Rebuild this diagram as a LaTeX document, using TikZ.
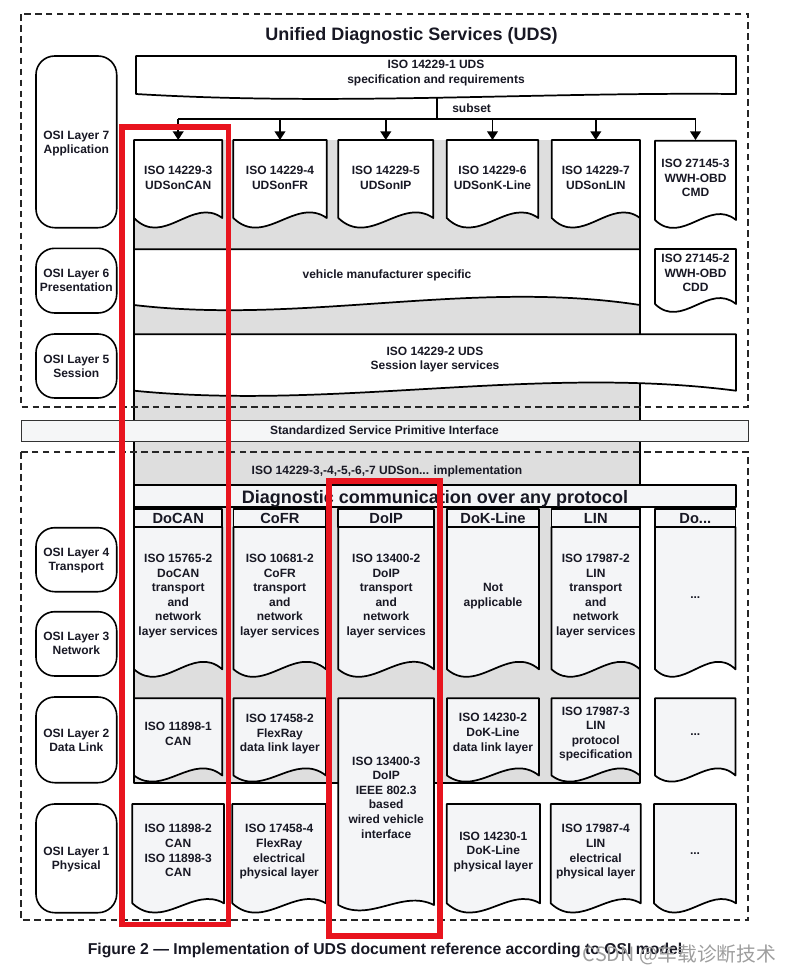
\documentclass[tikz,border=0pt]{standalone}
\usepackage{fontspec}
\setmainfont{Liberation Sans}
\newfontfamily\cjkfont{Noto Sans CJK SC}
\usetikzlibrary{arrows.meta}
\definecolor{graybg}{RGB}{222,222,222}
\definecolor{lowfill}{RGB}{244,245,247}
\definecolor{barfill}{RGB}{245,246,247}
\definecolor{txtc}{RGB}{24,24,36}
\definecolor{redc}{RGB}{232,20,30}
\tikzset{
  boxline/.style={draw=black, line width=1.3pt, line join=round},
  txt/.style={font=\fontsize{9}{10.9}\selectfont\bfseries, text=txtc, align=center, inner sep=0pt, anchor=north},
  laytxt/.style={font=\fontsize{9}{10.5}\selectfont\bfseries, text=txtc, align=center, inner sep=0pt, anchor=north},
  hdrtxt/.style={font=\fontsize{11}{13}\selectfont\bfseries, text=txtc, inner sep=0pt, anchor=north},
  bigtxt/.style={font=\fontsize{13.5}{16}\selectfont\bfseries, text=txtc, inner sep=0pt, anchor=north},
  dots/.style={font=\fontsize{9}{10.9}\selectfont\bfseries, text=txtc, inner sep=0pt, anchor=center},
  layerbox/.style={draw=black, line width=1.2pt, rounded corners=14pt, fill=white},
  dashbox/.style={draw=black!85, line width=0.8pt, dash pattern=on 5pt off 3.2pt},
  redbox/.style={draw=redc, line width=4.2pt},
  conn/.style={draw=black, line width=1.3pt, -{Triangle[width=8pt,length=6.5pt]}},
  busline/.style={draw=black, line width=1.3pt},
}
% x1, top, x2, base, P1 (left ctrl, down +), P2 (right ctrl), fill
\newcommand\docbox[7]{%
  \path[boxline, fill=#7] (#1,#2) -- (#3,#2) -- (#3,#4)
    .. controls ({#1+0.667*(#3-#1)},{#4+#6}) and ({#1+0.333*(#3-#1)},{#4+#5}) .. (#1,#4) -- cycle;}
\begin{document}
\begin{tikzpicture}[x=0.75pt,y=-0.75pt]
\useasboundingbox (0,0) rectangle (791,975);
\fill[white] (0,0) rectangle (791,975);

% gray region
\fill[graybg] (134,140) rectangle (640,782.7);
\draw[boxline] (134,140) -- (134,782.7) -- (640,782.7) -- (640,140);

% dashed frames
\draw[dashbox] (21,14) rectangle (748,407);
\draw[dashbox] (21,452) rectangle (748,920);

% title
\node[bigtxt] (title) at (411.5,26.7) {Unified Diagnostic Services (UDS)};

% OSI layer boxes
\draw[layerbox] (36,56) rectangle (116.7,227.7);
\draw[layerbox] (36,248.3) rectangle (116.7,313);
\draw[layerbox] (36,334) rectangle (116.7,398);
\draw[layerbox] (36,527.7) rectangle (116.7,591.7);
\draw[layerbox] (36,611.7) rectangle (116.7,676);
\draw[layerbox] (36,697) rectangle (116.7,782.7);
\draw[layerbox] (36,804) rectangle (116.7,912.7);
\node[laytxt] (l7) at (76.3,131) {OSI Layer 7\\Application};
\node[laytxt] (l6) at (76.3,269.3) {OSI Layer 6\\Presentation};
\node[laytxt] (l5) at (76.3,355) {OSI Layer 5\\Session};
\node[laytxt] (l4) at (76.3,548.3) {OSI Layer 4\\Transport};
\node[laytxt] (l3) at (76.3,631.7) {OSI Layer 3\\Network};
\node[laytxt] (l2) at (76.3,729.3) {OSI Layer 2\\Data Link};
\node[laytxt] (l1) at (76.3,847.3) {OSI Layer 1\\Physical};

% ISO 14229-1
\docbox{136}{56}{736}{94}{12}{-2}{white}
\node[txt] (iso1) at (436,60) {ISO 14229-1 UDS\\specification and requirements};

% subset bus
\coordinate (sTop) at (436.7,97.5);
\coordinate (sBus) at (436.7,119);
\coordinate (busL) at (178.2,119);
\coordinate (busR) at (695.5,119);
\draw[busline] (sTop) -- (sBus);
\draw[busline] (busL) -- (busR);
\node[txt, anchor=north west] (subset) at (452,104) {subset};
\foreach \n/\x in {1/178.2,2/280,3/385.8,4/492.5,5/595.8,6/695.5}{
  \coordinate (a\n) at (\x,119);
  \coordinate (t\n) at (\x,140);
  \draw[conn] (a\n) -- (t\n);
}

% layer 7 document boxes
\docbox{134}{140}{222.3}{218}{30}{-22}{white}
\docbox{233.3}{140}{326.7}{218}{30}{-22}{white}
\docbox{338.3}{140}{433.3}{218}{30}{-22}{white}
\docbox{446.7}{140}{538.3}{218}{30}{-22}{white}
\docbox{551.7}{140}{640}{218}{30}{-22}{white}
\docbox{655}{140.7}{736}{220}{26}{-22}{white}
\node[txt] (u3) at (178.2,166) {ISO 14229-3\\UDSonCAN};
\node[txt] (u4) at (280,166) {ISO 14229-4\\UDSonFR};
\node[txt] (u5) at (385.8,166) {ISO 14229-5\\UDSonIP};
\node[txt] (u6) at (492.5,166) {ISO 14229-6\\UDSonK-Line};
\node[txt] (u7) at (595.8,166) {ISO 14229-7\\UDSonLIN};
\node[txt] (w3) at (695.5,159) {ISO 27145-3\\WWH-OBD\\CMD};

% layer 6
\docbox{134}{249.3}{640}{305}{20}{-26}{white}
\docbox{655}{249}{736}{304}{26}{-22}{white}
\node[txt] (vms) at (387,269.3) {vehicle manufacturer specific};
\node[txt] (w2) at (695.5,254) {ISO 27145-2\\WWH-OBD\\CDD};

% layer 5
\docbox{134}{334.3}{736}{390.7}{20}{-26}{white}
\node[txt] (iso2) at (435,346.7) {ISO 14229-2 UDS\\Session layer services};

% service primitive interface bar
\draw[draw=black!80, line width=0.6pt, fill=barfill] (21,420) rectangle (748,441.7);
\node[txt] (sspi) at (384.5,426) {Standardized Service Primitive Interface};

\node[txt] (impl) at (387,466) {ISO 14229-3,-4,-5,-6,-7 UDSon... implementation};

% diagnostic communication bar
\draw[boxline, fill=lowfill] (134,485) rectangle (736,506.7);
\node[bigtxt] (dcap) at (435,490) {Diagnostic communication over any protocol};

% headers
\foreach \a/\b in {134/222.3, 233.5/326, 338.3/434, 447/539, 551.5/640, 655/735.5}{
  \draw[boxline, fill=lowfill] (\a,509.3) rectangle (\b,527);
}
\node[hdrtxt] (h1) at (178.2,512.7) {DoCAN};
\node[hdrtxt] (h2) at (279.8,512.7) {CoFR};
\node[hdrtxt] (h3) at (386.2,512.7) {DoIP};
\node[hdrtxt] (h4) at (493,512.7) {DoK-Line};
\node[hdrtxt] (h5) at (595.8,512.7) {LIN};
\node[hdrtxt] (h6) at (695.3,512.7) {Do...};

% transport / network row
\docbox{134}{527}{222.3}{669.3}{26}{-26}{lowfill}
\docbox{233.5}{527}{326}{669.3}{26}{-26}{lowfill}
\docbox{338.3}{527}{434}{669.3}{26}{-26}{lowfill}
\docbox{447}{527}{539}{669.3}{26}{-26}{lowfill}
\docbox{551.5}{527}{640}{669.3}{26}{-26}{lowfill}
\docbox{655}{527}{735.5}{669.3}{26}{-26}{lowfill}
\node[txt] (tr1) at (178.2,554) {ISO 15765-2\\DoCAN\\transport\\and\\network\\layer services};
\node[txt] (tr2) at (279.8,554) {ISO 10681-2\\CoFR\\transport\\and\\network\\layer services};
\node[txt] (tr3) at (386.2,554) {ISO 13400-2\\DoIP\\transport\\and\\network\\layer services};
\node[txt] (tr4) at (493,583.3) {Not\\applicable};
\node[txt] (tr5) at (595.8,554) {ISO 17987-2\\LIN\\transport\\and\\network\\layer services};
\node[dots] (tr6) at (695.3,598) {...};

% data link row
\docbox{134}{698.3}{222.3}{775.5}{22}{-24}{lowfill}
\docbox{233.5}{698.3}{326}{775.5}{22}{-24}{lowfill}
\docbox{447}{698.3}{539}{775.5}{22}{-24}{lowfill}
\docbox{551.5}{698.3}{640}{775.5}{22}{-24}{lowfill}
\docbox{655}{698.3}{735.5}{775.5}{22}{-24}{lowfill}
\docbox{338.3}{698.3}{434}{905}{18}{-16}{lowfill}
\node[txt] (dl1) at (178.2,722.3) {ISO 11898-1\\CAN};
\node[txt] (dl2) at (279.8,714) {ISO 17458-2\\FlexRay\\data link layer};
\node[txt] (dl4) at (493,713.3) {ISO 14230-2\\DoK-Line\\data link layer};
\node[txt] (dl5) at (595.8,706.7) {ISO 17987-3\\LIN\\protocol\\specification};
\node[dots] (dl6) at (695.3,735) {...};
\node[txt] (doip) at (386.2,756.7) {ISO 13400-3\\DoIP\\IEEE 802.3\\based\\wired vehicle\\interface};

% physical row
\docbox{132.3}{804}{224}{903.3}{28}{-18}{lowfill}
\docbox{232.3}{804}{326}{903.3}{28}{-18}{lowfill}
\docbox{446.7}{804}{540}{903.3}{28}{-18}{lowfill}
\docbox{550.7}{804}{640.7}{903.3}{28}{-18}{lowfill}
\docbox{654}{804}{736}{903.3}{28}{-18}{lowfill}
\node[txt] (ph1) at (178.2,824.3) {ISO 11898-2\\CAN\\ISO 11898-3\\CAN};
\node[txt] (ph2) at (279.2,824.3) {ISO 17458-4\\FlexRay\\electrical\\physical layer};
\node[txt] (ph4) at (493.3,831.7) {ISO 14230-1\\DoK-Line\\physical layer};
\node[txt] (ph5) at (595.7,824.3) {ISO 17987-4\\LIN\\electrical\\physical layer};
\node[dots] (ph6) at (695,854) {...};

% caption
\node[font=\fontsize{11.8}{14}\selectfont\bfseries, text=txtc, inner sep=0pt, anchor=north] (cap) at (385,942.7) {Figure 2 — Implementation of UDS document reference according to OSI model};

% red highlight frames
\draw[redbox] (122,127) rectangle (228.3,924.5);
\draw[redbox] (329,481) rectangle (440,936);

% watermark
\node[font=\cjkfont\fontsize{14.8}{16}\selectfont, text=black!38, inner sep=0pt] (wm) at (679.5,955) {CSDN @车载诊断技术};
\end{tikzpicture}
\end{document}
